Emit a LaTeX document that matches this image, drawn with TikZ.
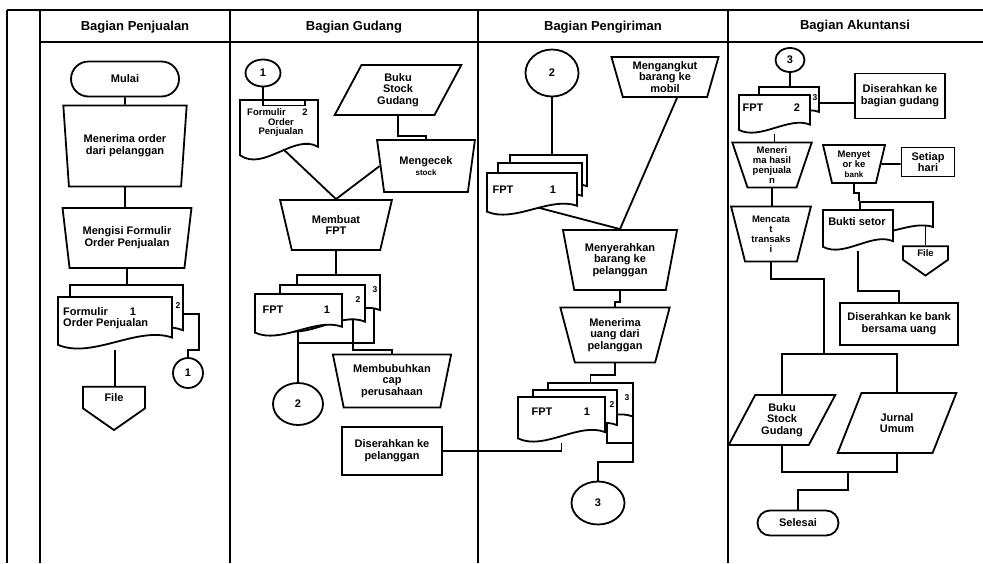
\documentclass[tikz,border=0pt]{standalone}
\usepackage{fontspec}
\setmainfont{Liberation Sans}
\usetikzlibrary{shapes.geometric,shapes.misc,shapes.symbols,backgrounds,calc}

\tikzset{
  txt/.style={font=\fontsize{11}{11.8}\selectfont\bfseries, align=center},
  tight/.style={font=\fontsize{9.5}{10}\selectfont\bfseries, align=center},
  small/.style={font=\fontsize{8.5}{9}\selectfont\bfseries},
  head/.style={font=\fontsize{13}{14}\selectfont\bfseries},
  shp/.style={draw, fill=white, inner sep=1pt, txt},
  manop/.style={shp, trapezium, shape border rotate=180, trapezium stretches=true,
    trapezium left angle=#1, trapezium right angle=#1},
  store/.style 2 args={shp, trapezium, trapezium stretches=true,
    trapezium left angle=#1, trapezium right angle=#2},
  proc/.style={shp, rectangle},
  term/.style={shp, rounded rectangle},
  conn/.style={shp, ellipse, inner sep=0pt},
  offpage/.style={shp, signal, signal to=south, signal from=nowhere, signal pointer angle=110},
  every on background layer/.style={line width=1.8pt},
}

% paper with a wavy bottom: name, left, top, width, height
\newcommand{\docpaper}[5]{%
  \draw[fill=white] (#2,#3) -- ({#2+#4},#3) -- ({#2+#4},{#3+0.78*#5})
    .. controls ({#2+0.7*#4},{#3+0.55*#5}) and ({#2+0.3*#4},{#3+1.2*#5}) .. (#2,{#3+0.92*#5}) -- cycle;
  \node[inner sep=0pt, minimum width=#4pt, minimum height=#5pt] (#1) at ({#2+#4/2},{#3+#5/2}) {};
}

\begin{document}
\begin{tikzpicture}[x=1pt, y=-1pt, line width=1.8pt]
\useasboundingbox (0,0) rectangle (983,563);

% lanes
\draw (7,10) -- (983,10);
\draw (40,42) -- (983,42);
\draw (7,10) -- (7,563);
\draw (40,10) -- (40,563);
\draw (230,10) -- (230,563);
\draw (478,10) -- (478,563);
\draw (728,10) -- (728,563);

\node[head] (hPenjualan) at (135,27) {Bagian Penjualan};
\node[head] (hGudang) at (354,27) {Bagian Gudang};
\node[head] (hPengiriman) at (603,27) {Bagian Pengiriman};
\node[head] (hAkuntansi) at (855,26) {Bagian Akuntansi};

% Bagian Penjualan
\node[term, minimum width=110pt, minimum height=35pt] (mulai) at (125,79) {Mulai};
\node[manop=80, minimum width=124pt, minimum height=81pt] (terimaOrder) at (125,146) {Menerima order\\dari pelanggan};
\node[manop=77, minimum width=129pt, minimum height=60pt] (isiFormulir) at (127,238) {Mengisi Formulir\\Order Penjualan};
\docpaper{fop2}{70}{285}{113}{58}
\docpaper{fop1}{58}{297}{114}{52}
\node[txt, anchor=west] (fop1a) at (59,312) {Formulir};
\node[txt] (fop1b) at (133,312) {1};
\node[txt, anchor=west] (fop1c) at (59,324) {Order Penjualan};
\node[small] (fop2a) at (178,306) {2};
\node[conn, minimum width=30pt, minimum height=30pt] (con1a) at (188,373) {1};
\node[offpage, minimum width=62pt, minimum height=29pt] (file1) at (114,397.5) {File};

% Bagian Gudang
\node[conn, minimum width=35pt, minimum height=27pt] (con1b) at (263,73) {1};
\docpaper{fopGdg}{240}{100}{78}{60}
\draw (con1b.south) -- ++(0,18) -- ++(42,0) -- ++(0,-5);
\node[tight, anchor=west] (fopGdga) at (243,112) {Formulir};
\node[tight] (fopGdgb) at (305,112) {2};
\node[tight] (fopGdgc) at (281,122) {Order};
\node[tight] (fopGdgd) at (281,132) {Penjualan};
\node[store={66}{114}, minimum width=127pt, minimum height=50pt] (bukuStock) at (398,90) {Buku\\Stock\\Gudang};
\node[manop=78, minimum width=98pt, minimum height=52pt] (cekStock) at (426,166) {Mengecek\\{\fontsize{8}{9}\selectfont stock}};
\node[manop=73, minimum width=112pt, minimum height=50pt] (buatFpt) at (336,225) {Membuat\\FPT};
\docpaper{fpt3}{297}{275}{83}{45}
\docpaper{fpt2}{280}{285}{85}{47}
\docpaper{fpt1}{255}{294}{87}{42}
\node[txt] (fpt1a) at (273,310) {FPT};
\node[txt] (fpt1b) at (327,310) {1};
\node[small] (fpt2a) at (358,300) {2};
\node[small] (fpt3a) at (375,290) {3};
\node[conn, minimum width=50pt, minimum height=42pt] (con2a) at (298,404) {2};
\node[manop=76, minimum width=119pt, minimum height=53pt] (capPrsh) at (392,381) {Membubuhkan\\cap\\perusahaan};
\node[proc, minimum width=100pt, minimum height=48pt] (serahPlg) at (392,451) {Diserahkan ke\\pelanggan};

% Bagian Pengiriman
\node[conn, minimum width=53pt, minimum height=47pt] (con2b) at (552,73) {2};
\node[manop=75, minimum width=108pt, minimum height=40pt] (angkut) at (665,77) {Mengangkut\\barang ke\\mobil};
\docpaper{kFpt3}{510}{155}{77}{40}
\docpaper{kFpt2}{498}{163}{84}{42}
\docpaper{kFpt1}{487}{173}{90}{42}
\node[txt] (kFpt1a) at (503,190) {FPT};
\node[txt] (kFpt1b) at (553,190) {1};
\node[manop=76, minimum width=115pt, minimum height=60pt] (serahBrg) at (620,260) {Menyerahkan\\barang ke\\pelanggan};
\node[manop=74, minimum width=110pt, minimum height=55pt] (terimaUang) at (615,335) {Menerima\\uang dari\\pelanggan};
\docpaper{tFpt3}{548}{383}{85}{43}
\docpaper{tFpt2}{533}{390}{84}{45}
\docpaper{tFpt1}{518}{397}{87}{45}
\node[txt] (tFpt1a) at (542,412) {FPT};
\node[txt] (tFpt1b) at (587,412) {1};
\node[small] (tFpt2a) at (612,405) {2};
\node[small] (tFpt3a) at (627,398) {3};
\node[conn, minimum width=53pt, minimum height=43pt] (con3a) at (598,503) {3};

% Bagian Akuntansi
\node[conn, minimum width=29pt, minimum height=24pt] (con3b) at (790,60) {3};
\docpaper{aFpt3}{759}{87}{60}{32}
\docpaper{aFpt2}{739}{95}{71}{38}
\node[txt] (aFpt2a) at (753,108) {FPT};
\node[txt] (aFpt2b) at (797,108) {2};
\node[small] (aFpt3a) at (815,98) {3};
\node[proc, minimum width=90pt, minimum height=45pt] (serahGdg) at (900,96) {Diserahkan ke\\bagian gudang};
\node[manop=72, tight, minimum width=80pt, minimum height=45pt] (hasilJual) at (772,165) {Meneri\\ma hasil\\penjuala\\n};
\node[manop=74, tight, minimum width=80pt, minimum height=55pt] (catat) at (771,234) {Mencata\\t\\transaks\\i};
\node[manop=76, tight, minimum width=62pt, minimum height=38pt] (setor) at (854,164) {Menyet\\or ke\\{\fontsize{8}{9}\selectfont bank}};
\node[proc, minimum width=53pt, minimum height=29pt] (setiapHari) at (928,162) {Setiap\\hari};
\docpaper{buktiBack}{860}{202}{73}{32}
\docpaper{bukti}{823}{210}{70}{40}
\node[txt] (buktiA) at (857,222) {Bukti setor};
\node[offpage, tight, minimum width=45pt, minimum height=20pt] (file2) at (925.5,253) {File};
\node[proc, minimum width=118pt, minimum height=42pt] (serahBank) at (899,324) {Diserahkan ke bank\\bersama uang};
\node[store={59}{121}, minimum width=107pt, minimum height=50pt] (bukuStock2) at (782,420) {Buku\\Stock\\Gudang};
\node[store={61}{119}, minimum width=119pt, minimum height=60pt] (jurnal) at (897,423) {Jurnal\\Umum};
\node[term, minimum width=83pt, minimum height=25pt] (selesai) at (798,523) {Selesai};

\coordinate (gjoin) at (298,343);
\coordinate (g2) at (353,310);
\coordinate (g3) at (374,300);
\coordinate (t2) at (607,410);
\coordinate (t3) at (633,412);
\coordinate (tj1) at (633,443);
\coordinate (tj2) at (598,462);
\coordinate (aj1) at (824,354);
\coordinate (aj2) at (848,472);

\begin{scope}[on background layer]
  \draw (mulai) -- (terimaOrder);
  \draw (terimaOrder) -- (terimaOrder |- isiFormulir);
  \draw (isiFormulir) -- (isiFormulir |- fop2.north);
  \draw (fop2.east) -- ++(15,0) -- ++(0,36) -| (con1a);
  \draw (fop1) -- (fop1 |- file1);

  \draw (fopGdg.center) ++(-16,0) -- (buatFpt.north);
  \draw (cekStock.west) -- (buatFpt.north);
  \draw (bukuStock.south) -- ++(0,20) -| (cekStock.north);
  \draw (buatFpt) -- (buatFpt |- fpt3.north);
  \draw (con2a) -- (con2a |- fpt1);
  \draw (g2) |- (gjoin);
  \draw (g3) |- (gjoin);
  \draw (g2 |- gjoin) -- ++(0,7) -| (capPrsh);
  \draw (serahPlg) -| (tFpt1);

  \draw (con2b) -- (con2b |- kFpt3.north);
  \draw (kFpt1.center) ++(0,12) -- (serahBrg.north);
  \draw ([xshift=12pt]angkut.south) -- (serahBrg.north);
  \draw (serahBrg) -- ++(0,42) -| (terimaUang);
  \draw (terimaUang) -- ++(0,40) -| (tFpt3);
  \draw (t2) |- (tj1);
  \draw (t3) |- (tj2) -- (con3a);

  \draw (con3b) -- (con3b |- aFpt3.north);
  \draw (aFpt3.east) -- (aFpt3.east -| serahGdg.west);
  \draw (aFpt2) -- (aFpt2 |- hasilJual);
  \draw (hasilJual) -- (hasilJual |- catat);
  \draw (catat) -- ++(0,45) -| (aj1);
  \draw (bukuStock2) |- (aj1);
  \draw (jurnal) |- (aj1);
  \draw (bukuStock2) |- (aj2);
  \draw (jurnal) |- (aj2);
  \draw (aj2) -- ++(0,18) -| (selesai);
  \draw (setor) -- (setor -| setiapHari.west);
  \draw (setor) -- ++(0,29) -| (buktiBack.north west);
  \draw (file2 |- buktiBack) -- (file2);
  \draw (bukti) |- ([yshift=11pt]serahBank.north) -- (serahBank);
\end{scope}
\end{tikzpicture}
\end{document}
